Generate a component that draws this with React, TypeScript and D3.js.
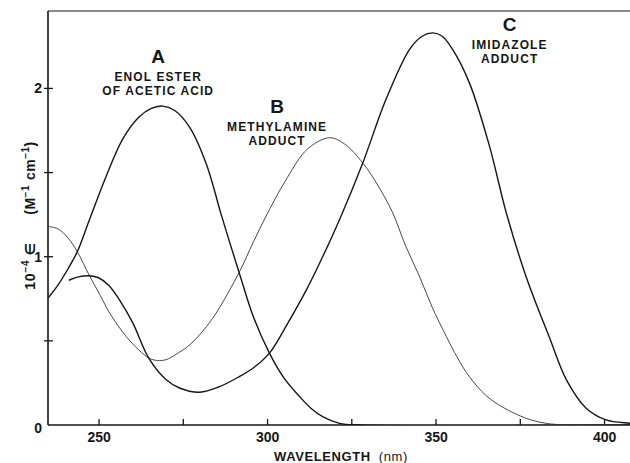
import { useEffect, useRef } from "react";
import * as d3 from "d3";

const WIDTH = 630;
const HEIGHT = 463;

const wavelengthTicks = [250, 275, 300, 325, 350, 375, 400];
const wavelengthLabels = [250, 300, 350, 400];
const epsilonTicks = [0, 0.5, 1, 1.5, 2];
const epsilonLabels = [0, 1, 2];

// A: enol ester of acetic acid
const enolWavelength = [235, 238, 241, 243.7, 247.3, 252.3, 257.2, 262, 265.5, 269, 272.5, 277, 282, 286.4, 291.8, 296, 300.7, 305, 309.6, 313, 316.5, 321.5, 328, 410];
const enolEpsilon = [0.754, 0.833, 0.93, 1.03, 1.22, 1.48, 1.7, 1.83, 1.88, 1.895, 1.87, 1.77, 1.55, 1.25, 0.9, 0.64, 0.427, 0.28, 0.17, 0.1, 0.05, 0.01, 0, 0];

// B: methylamine adduct
const methylWavelength = [235, 238, 241, 243.7, 247.3, 250.5, 253.3, 258.2, 262, 265, 267.5, 270, 273, 277, 281, 284.9, 291.8, 296, 300.7, 306, 312, 318.5, 323, 328.4, 333, 337.3, 341, 345.3, 349, 353.2, 356.5, 360.1, 365, 370, 376.9, 382.8, 390, 410];
const methylEpsilon = [1.18, 1.165, 1.11, 1.03, 0.887, 0.77, 0.665, 0.526, 0.445, 0.397, 0.383, 0.388, 0.42, 0.475, 0.56, 0.665, 0.91, 1.09, 1.28, 1.47, 1.64, 1.707, 1.67, 1.557, 1.42, 1.26, 1.07, 0.88, 0.7, 0.526, 0.4, 0.285, 0.175, 0.105, 0.04, 0.01, 0, 0];

// C: imidazole adduct
const imidazoleWavelength = [241.2, 244, 247.3, 250, 253, 256.2, 260.2, 264.9, 270, 274, 280, 285.9, 291.8, 296, 300.7, 306, 311.6, 316.5, 321.5, 328.4, 335.3, 342.3, 346, 349.2, 352, 355.1, 360.1, 366, 371, 376.9, 383.8, 388.8, 394.7, 400.6, 407.6, 410];
const imidazoleEpsilon = [0.86, 0.88, 0.887, 0.875, 0.83, 0.744, 0.605, 0.397, 0.27, 0.22, 0.195, 0.228, 0.288, 0.34, 0.427, 0.6, 0.8, 1.0, 1.22, 1.557, 1.935, 2.232, 2.31, 2.33, 2.31, 2.23, 2.03, 1.657, 1.26, 0.88, 0.52, 0.27, 0.1, 0.03, 0.01, 0.005];

const FONT = "'Liberation Sans', Arial, sans-serif";

export default function App() {
  const svgRef = useRef<SVGSVGElement | null>(null);

  useEffect(() => {
    const svgElement = svgRef.current;
    if (!svgElement) return;

    const x = d3.scaleLinear().domain([235, 410]).range([48, 48 + 175 * 3.37]);
    const y = d3.scaleLinear().domain([0, 2.46]).range([425, 11]);
    const left = x(235);
    const right = WIDTH;
    const top = y(2.46);
    const bottom = y(0);

    const svg = d3.select(svgElement);
    svg.selectAll("*").remove();

    const ink = "#161616";

    svg
      .append("defs")
      .append("clipPath")
      .attr("id", "plot-clip")
      .append("rect")
      .attr("x", left)
      .attr("y", top)
      .attr("width", right - left)
      .attr("height", bottom - top);

    // frame: left, bottom, top (right side runs off the page)
    const frame = svg.append("g").attr("stroke", ink).attr("fill", "none");
    frame.append("line").attr("x1", left).attr("x2", left).attr("y1", top).attr("y2", bottom).attr("stroke-width", 1.6);
    frame.append("line").attr("x1", left).attr("x2", right).attr("y1", bottom).attr("y2", bottom).attr("stroke-width", 1.6);
    frame.append("line").attr("x1", left).attr("x2", right).attr("y1", top).attr("y2", top).attr("stroke-width", 1.2);

    const xAxis = svg
      .append("g")
      .attr("transform", `translate(0, ${bottom})`)
      .call(
        d3
          .axisBottom(x)
          .tickValues(wavelengthTicks)
          .tickSizeInner(-6)
          .tickSizeOuter(0)
          .tickPadding(7)
          .tickFormat((v) => (wavelengthLabels.includes(v as number) ? String(v) : ""))
      );
    xAxis.select(".domain").remove();
    xAxis.selectAll("line").attr("stroke", ink).attr("stroke-width", 1.3);
    xAxis
      .selectAll("text")
      .attr("font-family", FONT)
      .attr("font-size", 14)
      .attr("font-weight", 700)
      .attr("fill", ink);

    const yTicks = svg.append("g");
    yTicks
      .selectAll("line")
      .data(epsilonTicks.filter((t) => t > 0))
      .join("line")
      .attr("x1", left - 4)
      .attr("x2", left + 5)
      .attr("y1", (t) => y(t))
      .attr("y2", (t) => y(t))
      .attr("stroke", ink)
      .attr("stroke-width", 1.3);
    yTicks
      .selectAll("text")
      .data(epsilonLabels)
      .join("text")
      .attr("x", left - 6)
      .attr("y", (t) => y(t) + (t === 0 ? 3 : 0))
      .attr("text-anchor", "end")
      .attr("dominant-baseline", "central")
      .attr("font-family", FONT)
      .attr("font-size", 14)
      .attr("font-weight", 700)
      .attr("fill", ink)
      .text((t) => String(t));

    // axis titles
    const xTitle = svg
      .append("text")
      .attr("x", 341)
      .attr("y", 456)
      .attr("text-anchor", "middle")
      .attr("dominant-baseline", "central")
      .attr("font-family", FONT)
      .attr("font-size", 13)
      .attr("font-weight", 700)
      .attr("fill", ink)
      .attr("letter-spacing", 0.6);
    xTitle.append("tspan").text("WAVELENGTH");
    xTitle.append("tspan").attr("dx", 8).attr("font-weight", 400).text("(nm)");

    const yTitle = svg
      .append("g")
      .attr("transform", "translate(30, 222) rotate(-90)")
      .attr("font-family", FONT)
      .attr("font-weight", 700)
      .attr("fill", ink);
    const yUnit = yTitle
      .append("text")
      .attr("x", 44)
      .attr("y", 5)
      .attr("text-anchor", "middle")
      .attr("font-size", 14)
      .attr("letter-spacing", 0.5);
    yUnit.append("tspan").text("(M");
    yUnit.append("tspan").attr("dy", -6).attr("font-size", 10).text("−1");
    yUnit.append("tspan").attr("dy", 6).attr("dx", 5).text("cm");
    yUnit.append("tspan").attr("dy", -6).attr("font-size", 10).text("−1");
    yUnit.append("tspan").attr("dy", 6).text(")");
    const yEps = yTitle
      .append("text")
      .attr("x", -44)
      .attr("y", 5)
      .attr("text-anchor", "middle")
      .attr("font-size", 14)
      .attr("letter-spacing", 0.8);
    yEps.append("tspan").text("10");
    yEps.append("tspan").attr("dy", -6).attr("font-size", 10).text("−4");
    yEps
      .append("tspan")
      .attr("dy", 6)
      .attr("dx", 4)
      .attr("font-size", 14)
      .attr("font-family", "'DejaVu Sans', sans-serif")
      .text("∈");

    // spectra
    const series = [
      { wl: enolWavelength, eps: enolEpsilon, width: 1.4, color: ink },
      { wl: methylWavelength, eps: methylEpsilon, width: 0.9, color: "#333" },
      { wl: imidazoleWavelength, eps: imidazoleEpsilon, width: 1.4, color: ink },
    ];
    const line = d3
      .line<[number, number]>()
      .x((d) => x(d[0]))
      .y((d) => y(d[1]))
      .curve(d3.curveCatmullRom.alpha(0.5));
    svg
      .append("g")
      .attr("clip-path", "url(#plot-clip)")
      .selectAll("path")
      .data(series)
      .join("path")
      .attr("fill", "none")
      .attr("stroke", (s) => s.color)
      .attr("stroke-width", (s) => s.width)
      .attr("stroke-linejoin", "round")
      .attr("d", (s) => line(s.wl.map((w, i) => [w, s.eps[i]] as [number, number])));

    // curve annotations
    const notes = [
      { letter: "A", lines: ["ENOL ESTER", "OF ACETIC ACID"], wl: 267.7, top: 2.19 },
      { letter: "B", lines: ["METHYLAMINE", "ADDUCT"], wl: 303, top: 1.895 },
      { letter: "C", lines: ["IMIDAZOLE", "ADDUCT"], wl: 372, top: 2.38 },
    ];
    const noteGroups = svg
      .append("g")
      .attr("font-family", FONT)
      .attr("font-weight", 700)
      .attr("fill", ink)
      .attr("text-anchor", "middle")
      .selectAll("g")
      .data(notes)
      .join("g")
      .attr("transform", (n) => `translate(${x(n.wl)}, ${y(n.top)})`);
    noteGroups
      .append("text")
      .attr("dominant-baseline", "central")
      .attr("font-size", 19)
      .text((n) => n.letter);
    noteGroups.each(function (n) {
      const g = d3.select(this);
      n.lines.forEach((text, i) => {
        g.append("text")
          .attr("y", 21 + i * 13.5)
          .attr("dominant-baseline", "central")
          .attr("font-size", 12)
          .attr("letter-spacing", 1.1)
          .text(text);
      });
    });
  }, []);

  return (
    <svg
      ref={svgRef}
      width={WIDTH}
      height={HEIGHT}
      style={{ position: "absolute", left: 0, top: 0, background: "#fff" }}
      role="img"
      aria-label="Absorption spectra"
    />
  );
}
